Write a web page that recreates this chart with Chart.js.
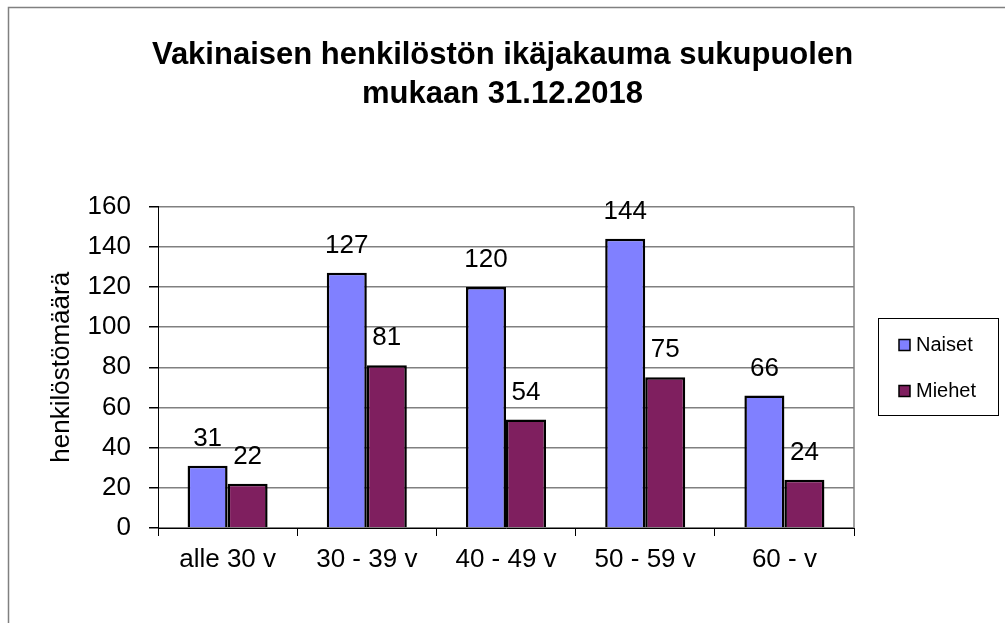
<!DOCTYPE html>
<html>
<head>
<meta charset="utf-8">
<script src="https://cdn.jsdelivr.net/npm/chart.js@4/dist/chart.umd.min.js"></script>
<style>
  body { margin: 0; background: #fff; }
  #wrap { position: relative; width: 1005px; height: 623px; }
</style>
</head>
<body>
<div id="wrap"><canvas id="myChart"></canvas></div>
<script>
const categories = ['alle 30 v', '30 - 39 v', '40 - 49 v', '50 - 59 v', '60 - v']
const naiset = [31, 127, 120, 144, 66]
const miehet = [22, 81, 54, 75, 24]
const titleLines = ['Vakinaisen henkilöstön ikäjakauma sukupuolen', 'mukaan 31.12.2018']
const yTitle = 'henkilöstömäärä'

const FONT = "'Liberation Sans', Arial, sans-serif"

// value labels, plot border, legend box and outer frame
const extras = {
    id: 'extras',
    beforeDraw(chart) {
        const ctx = chart.ctx
        ctx.save()
        ctx.strokeStyle = '#808080'
        ctx.lineWidth = 1.5
        ctx.strokeRect(8.5, 7.5, 1100, 700)
        ctx.restore()
    },
    afterDatasetsDraw(chart) {
        const ctx = chart.ctx
        const area = chart.chartArea
        ctx.save()
        // right edge of plot area
        ctx.strokeStyle = '#808080'
        ctx.lineWidth = 1.5
        ctx.beginPath()
        ctx.moveTo(area.right, area.top)
        ctx.lineTo(area.right, area.bottom)
        ctx.stroke()

        ctx.fillStyle = '#000'
        ctx.font = '26px ' + FONT
        ctx.textAlign = 'center'
        ctx.textBaseline = 'middle'
        chart.data.datasets.forEach((ds, i) => {
            chart.getDatasetMeta(i).data.forEach((bar, j) => {
                ctx.fillText(ds.data[j], bar.x, bar.y - 27)
            })
        })

        // legend
        ctx.strokeStyle = '#000'
        ctx.lineWidth = 1
        ctx.strokeRect(878.5, 318.5, 120, 97)
        ctx.font = '20px ' + FONT
        ctx.textAlign = 'left'
        chart.data.datasets.forEach((ds, i) => {
            const y = 345 + i * 46
            ctx.fillStyle = ds.backgroundColor
            ctx.fillRect(899, y - 5.5, 11, 11)
            ctx.strokeStyle = '#000'
            ctx.lineWidth = 1.5
            ctx.strokeRect(899, y - 5.5, 11, 11)
            ctx.fillStyle = '#000'
            ctx.fillText(ds.label, 916, y)
        })
        ctx.restore()
    }
}

const config = {
    type: 'bar',
    data: {
        labels: categories,
        datasets: [
            {
                label: 'Naiset',
                data: naiset,
                yAxisID: 'y',
                backgroundColor: '#8080FF',
                borderColor: '#000',
                borderWidth: 2.5,
                categoryPercentage: 0.575,
                barPercentage: 1
            },
            {
                label: 'Miehet',
                data: miehet,
                yAxisID: 'y',
                backgroundColor: '#7F1F5F',
                borderColor: '#000',
                borderWidth: 2.5,
                categoryPercentage: 0.575,
                barPercentage: 1
            }
        ]
    },
    plugins: [extras],
    options: {
        responsive: true,
        maintainAspectRatio: false,
        animation: false,
        layout: { padding: 0 },
        plugins: {
            legend: { display: false },
            tooltip: { enabled: false },
            title: {
                display: true,
                text: titleLines,
                color: '#000',
                font: { family: FONT, size: 31, weight: 'bold', lineHeight: 1.25 },
                padding: { top: 36, bottom: 93 }
            }
        },
        scales: {
            x: {
                grid: {
                    drawOnChartArea: false,
                    drawTicks: true,
                    tickLength: 8,
                    tickColor: '#000',
                    offset: true
                },
                border: { color: '#000', width: 1 },
                ticks: { color: '#000', padding: 8, font: { family: FONT, size: 26 }, maxRotation: 0 },
                afterFit(scale) { scale.height = 95 }
            },
            y: {
                min: 0,
                max: 160,
                ticks: { stepSize: 20, color: '#000', padding: 18, font: { family: FONT, size: 26 } },
                grid: { color: '#808080', lineWidth: 1.5, tickLength: 9, tickColor: '#000' },
                border: { color: '#000', width: 1 },
                title: {
                    display: true,
                    text: yTitle,
                    color: '#000',
                    font: { family: FONT, size: 26 },
                    padding: { top: 46, bottom: 0 }
                },
                afterFit(scale) { scale.width = 158 }
            },
            // empty space on the right that holds the legend
            yRight: {
                position: 'right',
                min: 0,
                max: 160,
                grid: { display: false },
                border: { display: false },
                ticks: { display: false },
                afterFit(scale) { scale.width = 151 }
            }
        }
    }
}

const myChart = new Chart(document.getElementById('myChart'), config)
</script>
</body>
</html>
